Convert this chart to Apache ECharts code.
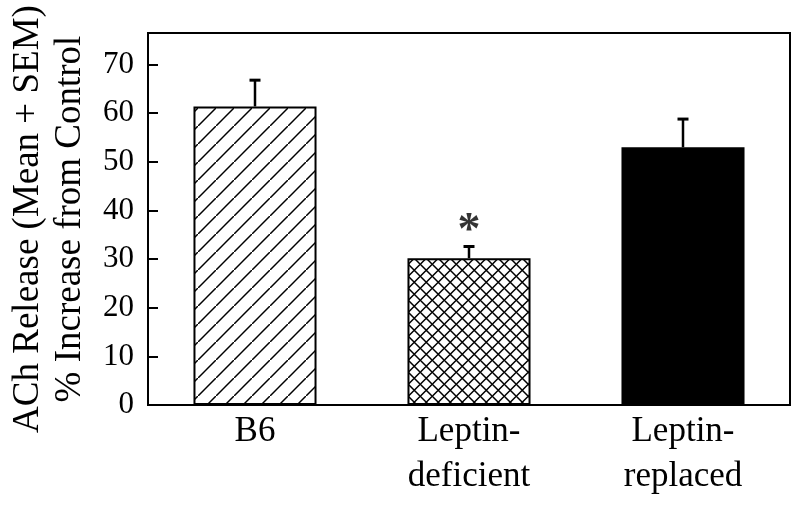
<!DOCTYPE html>
<html>
<head>
<meta charset="utf-8">
<script src="https://cdn.jsdelivr.net/npm/echarts@6/dist/echarts.min.js"></script>
<style>
  html, body { margin: 0; padding: 0; background: #fff; }
  #chart { width: 800px; height: 507px; }
</style>
</head>
<body>
<div id="chart"></div>
<script>
// data
const categories = ["B6", "Leptin-\ndeficient", "Leptin-\nreplaced"];
const meanValues = [61.4, 30.2, 53.0];
const semValues = [5.4, 2.4, 5.8];
const starValues = [null, 35.6, null]; // "*" marks significance
const yTicks = [0, 10, 20, 30, 40, 50, 60, 70];

const FONT = '"Liberation Serif", "DejaVu Serif", serif';

// hatch patterns
function hatchPattern(cross) {
  const s = cross ? 12.5 : 18;
  const c = document.createElement("canvas");
  c.width = s; c.height = s;
  const g = c.getContext("2d");
  g.fillStyle = "#fff";
  g.fillRect(0, 0, s, s);
  g.strokeStyle = "#000";
  g.lineWidth = 1.5;
  g.beginPath();
  g.moveTo(-2, s + 2); g.lineTo(s + 2, -2);
  if (cross) {
    g.moveTo(-2, -2); g.lineTo(s + 2, s + 2);
  }
  g.stroke();
  return { image: c, repeat: "repeat" };
}
const fills = [hatchPattern(false), hatchPattern(true), "#000"];

var myChart = echarts.init(document.getElementById("chart"));
myChart.setOption({
  animation: false,
  grid: {
    left: 148, right: 10, top: 33, bottom: 102,
    outerBoundsMode: "none",
    containLabel: false,
    show: true, borderColor: "#000", borderWidth: 2
  },
  xAxis: {
    type: "category",
    data: categories,
    axisLine: { lineStyle: { color: "#000", width: 2 } },
    axisTick: { show: false },
    axisLabel: {
      color: "#000",
      fontFamily: FONT,
      fontSize: 35,
      lineHeight: 45,
      margin: 4,
      verticalAlign: "top"
    }
  },
  yAxis: {
    type: "value",
    min: 0,
    max: 76.5,
    splitLine: { show: false },
    axisLine: { show: true, lineStyle: { color: "#000", width: 2 } },
    axisTick: {
      show: true, inside: true, length: 10, customValues: yTicks,
      lineStyle: { color: "#000", width: 2 }
    },
    axisLabel: {
      customValues: yTicks,
      color: "#000",
      fontFamily: FONT,
      fontSize: 31,
      margin: 14
    },
    name: "ACh Release (Mean + SEM)\n% Increase from Control",
    nameLocation: "middle",
    nameRotate: 90,
    nameGap: 57,
    nameTextStyle: {
      color: "#000",
      fontFamily: FONT,
      fontSize: 37,
      lineHeight: 42
    }
  },
  series: [
    {
      type: "bar",
      barWidth: "57.5%",
      data: meanValues.map((v, i) => ({
        value: v,
        itemStyle: { color: fills[i] }
      })),
      itemStyle: { borderColor: "#000", borderWidth: 2 },
      z: 2
    },
    {
      type: "custom",
      data: meanValues.map((v, i) => [i, v, v + semValues[i]]),
      renderItem: function (params, api) {
        const base = api.coord([api.value(0), api.value(1)]);
        const top = api.coord([api.value(0), api.value(2)]);
        return {
          type: "group",
          children: [
            { type: "line", shape: { x1: base[0], y1: base[1], x2: top[0], y2: top[1] },
              style: { stroke: "#000", lineWidth: 2.5 } },
            { type: "line", shape: { x1: top[0] - 5.5, y1: top[1], x2: top[0] + 5.5, y2: top[1] },
              style: { stroke: "#000", lineWidth: 3 } }
          ]
        };
      },
      z: 1
    },
    {
      type: "scatter",
      symbolSize: 0,
      data: starValues.map((v, i) => v == null ? null : [i, v]).filter(Boolean),
      label: {
        show: true,
        formatter: "*",
        position: "inside",
        color: "#000",
        fontFamily: FONT,
        fontWeight: "bold",
        fontSize: 46
      },
      emphasis: { disabled: true }
    }
  ]
});
</script>
</body>
</html>
